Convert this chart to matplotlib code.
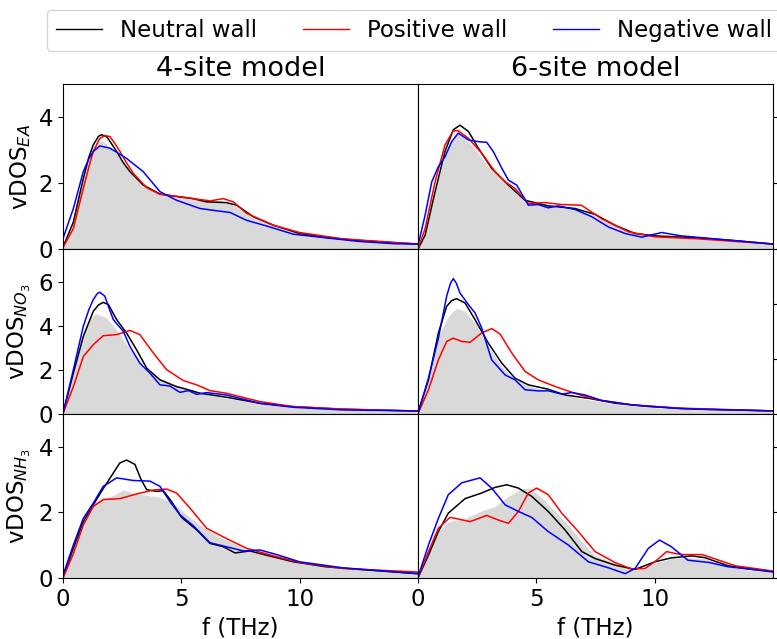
import numpy as np
import matplotlib
matplotlib.use("Agg")
import matplotlib.pyplot as plt
from matplotlib.lines import Line2D

# (f [THz], vDOS) pares
# EA - 4 site
ea4_ref = [(0, 0), (0.3, 0.5), (0.6, 1.4), (0.9, 2.3), (1.2, 3.0), (1.45, 3.25), (1.63, 3.3), (1.9, 3.15),
           (2.3, 2.85), (2.7, 2.45), (3.1, 2.1), (3.5, 1.85), (4.1, 1.69), (4.9, 1.6), (5.9, 1.53), (6.9, 1.43),
           (7.3, 1.3), (7.8, 1.03), (8.9, 0.72), (10, 0.47), (11.8, 0.31), (14, 0.21), (15, 0.16)]
ea4_neu = [(0, 0.05), (0.44, 0.82), (0.86, 2.14), (1.1, 2.8), (1.28, 3.16), (1.5, 3.42), (1.63, 3.47),
           (1.85, 3.41), (2.05, 3.2), (2.27, 2.96), (2.55, 2.62), (2.83, 2.35), (3.39, 1.94), (4.1, 1.67),
           (4.66, 1.61), (5.5, 1.53), (6.07, 1.43), (6.9, 1.41), (7.34, 1.33), (8.04, 0.98), (8.9, 0.72),
           (10, 0.47), (11.1, 0.35), (12.5, 0.26), (14, 0.19), (15, 0.15)]
ea4_pos = [(0, 0.04), (0.44, 0.62), (0.86, 1.84), (1.1, 2.5), (1.28, 2.96), (1.55, 3.35), (1.77, 3.45),
           (1.99, 3.41), (2.2, 3.2), (2.41, 2.96), (2.7, 2.6), (2.97, 2.3), (3.54, 1.86), (4.1, 1.66),
           (4.8, 1.6), (5.5, 1.53), (6.21, 1.46), (6.77, 1.53), (7.2, 1.43), (7.76, 1.08), (8.9, 0.72),
           (10, 0.5), (11.8, 0.31), (15, 0.15)]
ea4_neg = [(0, 0.31), (0.44, 1.23), (0.86, 2.35), (1.1, 2.75), (1.28, 2.96), (1.56, 3.13), (1.99, 3.06),
           (2.69, 2.75), (3.39, 2.35), (4.1, 1.74), (4.8, 1.48), (5.79, 1.23), (6.5, 1.16), (7.06, 1.11),
           (7.76, 0.87), (8.6, 0.70), (9.73, 0.45), (11.1, 0.34), (12.5, 0.23), (14, 0.16), (15, 0.15)]

# EA - 6 site
ea6_ref = [(0, 0), (0.3, 0.42), (0.72, 1.74), (1.14, 2.86), (1.45, 3.35), (1.7, 3.52), (2.0, 3.35),
           (2.27, 3.16), (2.97, 2.5), (3.82, 1.94), (4.52, 1.45), (5.5, 1.33), (6.63, 1.25), (7.76, 0.92),
           (8.9, 0.54), (10, 0.42), (11.8, 0.34), (15, 0.15)]
ea6_neu = [(0, 0), (0.3, 0.42), (0.72, 1.74), (1.14, 2.96), (1.49, 3.62), (1.77, 3.76), (2.13, 3.57),
           (2.55, 3.06), (3.11, 2.45), (3.82, 1.94), (4.52, 1.48), (5.5, 1.31), (6.63, 1.23), (7.48, 1.05),
           (8.32, 0.72), (9.17, 0.47), (10, 0.40), (11.8, 0.34), (13.3, 0.26), (15, 0.15)]
ea6_pos = [(0, 0), (0.3, 0.62), (0.72, 2.04), (1.14, 3.16), (1.49, 3.59), (1.7, 3.59), (2.13, 3.36),
           (2.69, 2.91), (3.25, 2.35), (3.68, 2.04), (4.1, 1.84), (4.66, 1.38), (5.37, 1.41), (6.07, 1.35),
           (6.9, 1.33), (7.76, 0.92), (8.9, 0.52), (10, 0.37), (11.8, 0.31), (15, 0.15)]
ea6_neg = [(0, 0.11), (0.3, 1.03), (0.58, 2.04), (0.86, 2.5), (1.14, 2.8), (1.42, 3.26), (1.7, 3.52),
           (2.13, 3.31), (2.55, 3.26), (2.9, 3.24), (3.18, 2.96), (3.54, 2.45), (3.82, 2.09), (4.17, 1.94),
           (4.66, 1.33), (5.08, 1.35), (5.5, 1.25), (5.92, 1.31), (6.63, 1.2), (7.34, 0.98), (8.04, 0.67),
           (8.75, 0.47), (9.45, 0.36), (10.3, 0.5), (11.1, 0.4), (12.5, 0.31), (15, 0.15)]

# NO3 - 4 site
no4_ref = [(0, 0), (0.44, 1.84), (0.86, 3.67), (1.21, 4.43), (1.42, 4.55), (1.85, 4.36), (2.27, 3.82),
           (2.83, 2.91), (3.54, 2.0), (4.1, 1.61), (4.94, 1.23), (5.79, 0.93), (6.9, 0.70), (8.32, 0.44),
           (9.73, 0.29), (11.8, 0.17), (15, 0.09)]
no4_neu = [(0, 0), (0.44, 1.84), (0.86, 3.52), (1.28, 4.66), (1.50, 4.95), (1.70, 5.07), (1.92, 4.97),
           (2.27, 4.28), (2.69, 3.67), (3.11, 2.91), (3.54, 2.07), (4.1, 1.54), (4.8, 1.23), (5.23, 1.11),
           (5.79, 0.93), (6.9, 0.75), (8.32, 0.47), (9.73, 0.32), (11.8, 0.2), (15, 0.12)]
no4_pos = [(0, 0), (0.44, 1.23), (0.86, 2.6), (1.28, 3.14), (1.7, 3.55), (2.27, 3.6), (2.83, 3.79),
           (3.25, 3.6), (3.82, 2.76), (4.38, 2.0), (5.08, 1.51), (5.65, 1.31), (6.21, 1.05), (6.9, 0.93),
           (8.32, 0.55), (9.73, 0.32), (11.8, 0.21), (15, 0.12)]
no4_neg = [(0, 0), (0.44, 2.0), (0.86, 3.98), (1.1, 4.75), (1.28, 5.19), (1.45, 5.47), (1.56, 5.53),
           (1.77, 5.35), (1.95, 4.8), (2.13, 4.28), (2.55, 3.75), (2.83, 3.06), (3.25, 2.3), (3.68, 1.84),
           (4.1, 1.31), (4.52, 1.26), (4.94, 0.97), (5.3, 1.05), (5.65, 0.88), (6.07, 0.96), (6.9, 0.85),
           (8.32, 0.47), (9.73, 0.29), (11.8, 0.17), (15, 0.12)]

# NO3 - 6 site
no6_ref = [(0, 0), (0.44, 1.23), (0.86, 2.82), (1.28, 3.55), (1.63, 3.85), (1.99, 3.73), (2.41, 3.30),
           (2.97, 2.45), (3.54, 1.72), (4.1, 1.23), (4.8, 0.99), (5.5, 0.80), (6.63, 0.60), (8.04, 0.38),
           (9.73, 0.23), (11.8, 0.13), (15, 0.1)]
no6_neu = [(0, 0.05), (0.44, 1.23), (0.86, 2.94), (1.21, 3.91), (1.42, 4.12), (1.63, 4.19), (1.99, 4.03),
           (2.41, 3.42), (2.97, 2.57), (3.54, 1.84), (4.1, 1.29), (4.66, 1.05), (5.5, 0.89), (6.21, 0.68),
           (7.2, 0.56), (8.32, 0.38), (9.73, 0.26), (11.8, 0.16), (15, 0.1)]
no6_pos = [(0, 0), (0.44, 0.87), (0.86, 1.96), (1.21, 2.63), (1.49, 2.75), (1.85, 2.63), (2.2, 2.6),
           (2.69, 2.94), (3.11, 3.1), (3.46, 2.91), (3.96, 2.21), (4.52, 1.54), (5.08, 1.23), (5.79, 0.99),
           (6.63, 0.74), (7.62, 0.5), (9.03, 0.32), (11.1, 0.2), (15, 0.1)]
no6_neg = [(0, 0), (0.44, 1.29), (0.86, 2.75), (1.21, 4.28), (1.37, 4.75), (1.49, 4.92), (1.62, 4.75),
           (1.77, 4.40), (2.13, 3.97), (2.41, 3.67), (2.69, 3.12), (3.11, 1.96), (3.68, 1.41), (4.1, 1.23),
           (4.52, 0.87), (5.08, 0.83), (5.5, 0.83), (6.07, 0.71), (6.5, 0.77), (7.06, 0.68), (7.76, 0.48),
           (9.03, 0.32), (11.1, 0.18), (15, 0.1)]

# NH3 - 4 site
nh4_ref = [(0, 0), (0.44, 0.81), (0.86, 1.62), (1.28, 2.28), (1.7, 2.42), (2.13, 2.52), (2.55, 2.69),
           (2.97, 2.59), (3.54, 2.52), (4.1, 2.46), (4.66, 2.28), (5.23, 1.93), (5.79, 1.62), (6.5, 1.29),
           (7.2, 1.06), (8.04, 0.81), (9.03, 0.60), (10, 0.45), (11.8, 0.30), (15, 0.14)]
nh4_neu = [(0, 0.02), (0.44, 0.91), (0.86, 1.72), (1.28, 2.23), (1.7, 2.72), (2.13, 3.2), (2.4, 3.5),
           (2.69, 3.59), (3.04, 3.46), (3.3, 3.0), (3.54, 2.69), (3.96, 2.64), (4.24, 2.66), (4.59, 2.33),
           (5.01, 1.85), (5.65, 1.47), (6.21, 1.06), (6.77, 0.96), (7.27, 0.77), (7.9, 0.83), (8.6, 0.70),
           (9.73, 0.50), (11.1, 0.35), (12.5, 0.27), (15, 0.14)]
nh4_pos = [(0, 0), (0.44, 0.75), (0.86, 1.62), (1.28, 2.18), (1.7, 2.39), (2.41, 2.42), (3.11, 2.56),
           (3.82, 2.68), (4.38, 2.71), (4.8, 2.59), (5.37, 2.13), (6.07, 1.52), (6.9, 1.21), (7.76, 0.91),
           (8.9, 0.68), (10, 0.48), (11.8, 0.30), (15, 0.19)]
nh4_neg = [(0, 0.09), (0.44, 1.01), (0.86, 1.82), (1.28, 2.28), (1.7, 2.79), (2.27, 3.05), (2.97, 2.97),
           (3.68, 2.95), (4.1, 2.79), (4.52, 2.33), (4.94, 1.93), (5.5, 1.6), (6.21, 1.08), (6.9, 0.96),
           (7.62, 0.83), (8.32, 0.86), (9.03, 0.72), (10, 0.5), (11.8, 0.32), (15, 0.14)]

# NH3 - 6 site
nh6_ref = [(0, 0.02), (0.44, 0.81), (0.86, 1.42), (1.28, 1.72), (1.99, 1.82), (2.69, 2.05), (3.25, 2.18),
           (3.82, 2.49), (4.38, 2.72), (4.73, 2.74), (5.23, 2.44), (5.79, 2.03), (6.35, 1.62), (6.92, 1.11),
           (7.48, 0.70), (8.18, 0.50), (8.89, 0.32), (9.45, 0.30), (10, 0.45), (10.7, 0.60), (11.4, 0.64),
           (12.1, 0.6), (13.1, 0.35), (14, 0.24), (15, 0.19)]
nh6_neu = [(0, 0.02), (0.44, 0.70), (0.86, 1.42), (1.28, 1.98), (1.99, 2.42), (2.69, 2.59), (3.25, 2.76),
           (3.75, 2.84), (4.24, 2.74), (4.8, 2.49), (5.5, 2.03), (6.21, 1.47), (6.92, 0.81), (7.48, 0.60),
           (8.32, 0.40), (9.17, 0.27), (10, 0.50), (10.7, 0.62), (11.56, 0.68), (12.1, 0.63), (13.1, 0.38),
           (14, 0.28), (15, 0.21)]
nh6_pos = [(0, 0.02), (0.44, 0.81), (0.86, 1.52), (1.35, 1.85), (1.7, 1.80), (2.2, 1.72), (2.9, 1.91),
           (3.39, 1.77), (3.82, 1.67), (4.24, 2.03), (4.66, 2.59), (5.01, 2.74), (5.5, 2.54), (6.07, 1.98),
           (6.77, 1.42), (7.48, 0.81), (8.32, 0.48), (9.03, 0.28), (9.59, 0.30), (10, 0.50), (10.5, 0.81),
           (11.1, 0.72), (12.0, 0.72), (12.5, 0.60), (13.4, 0.38), (15, 0.22)]
nh6_neg = [(0, 0.04), (0.44, 1.01), (0.86, 1.82), (1.28, 2.54), (1.85, 2.90), (2.62, 3.05), (3.11, 2.74),
           (3.68, 2.23), (4.24, 2.03), (4.8, 1.85), (5.5, 1.42), (6.35, 1.01), (7.2, 0.50), (8.04, 0.32),
           (8.75, 0.14), (9.17, 0.30), (9.73, 0.91), (10.2, 1.16), (10.7, 0.96), (11.4, 0.55), (12.3, 0.48),
           (13.1, 0.35), (14, 0.28), (15, 0.19)]

panels = [[(ea4_ref, ea4_neu, ea4_pos, ea4_neg), (ea6_ref, ea6_neu, ea6_pos, ea6_neg)],
          [(no4_ref, no4_neu, no4_pos, no4_neg), (no6_ref, no6_neu, no6_pos, no6_neg)],
          [(nh4_ref, nh4_neu, nh4_pos, nh4_neg), (nh6_ref, nh6_neu, nh6_pos, nh6_neg)]]

ylabels = [r'vDOS$_{EA}$', r'vDOS$_{NO_3}$', r'vDOS$_{NH_3}$']
titles = ['4-site model', '6-site model']
ylims = [[5, 5], [7.5, 6], [5, 5]]
yticks = [[0, 2, 4], [0, 2, 4, 6], [0, 2, 4]]
cores = ['k', 'r', 'b']
nomes = ['Neutral wall', 'Positive wall', 'Negative wall']

fig, axes = plt.subplots(3, 2, figsize=(7.77, 6.39), dpi=100, sharex=True)
plt.subplots_adjust(left=0.081, right=0.995, top=0.868, bottom=0.095, hspace=0, wspace=0)

for i in range(3):
    for j in range(2):
        ax = axes[i, j]
        ref, neu, pos, neg = panels[i][j]
        fx, fy = zip(*ref)
        ax.fill_between(fx, 0, fy, color='0.85', lw=0, zorder=1)
        for serie, c in zip((neu, pos, neg), cores):
            sx, sy = zip(*serie)
            ax.plot(sx, sy, color=c, lw=1.1, zorder=2)

        ax.set_xlim(0, 15)
        ax.set_ylim(0, ylims[i][j])
        ax.set_yticks(yticks[i])
        ax.set_xticks([0, 5, 10])
        ax.tick_params(labelsize=16.5)

        if j == 0:
            ax.set_ylabel(ylabels[i], fontsize=16.5)
        else:
            ax.yaxis.tick_right()
            ax.tick_params(axis='y', labelright=False)
        if i == 0:
            ax.set_title(titles[j], fontsize=19.5)
        if i == 2:
            ax.set_xlabel('f (THz)', fontsize=16.5)

legend_elements = [Line2D([0], [0], color=c, lw=1.0, label=n) for c, n in zip(cores, nomes)]
fig.legend(handles=legend_elements, loc='upper center', bbox_to_anchor=(0.533, 1.003), ncol=3, fontsize=16.5)

plt.savefig('out.png', dpi=100)
